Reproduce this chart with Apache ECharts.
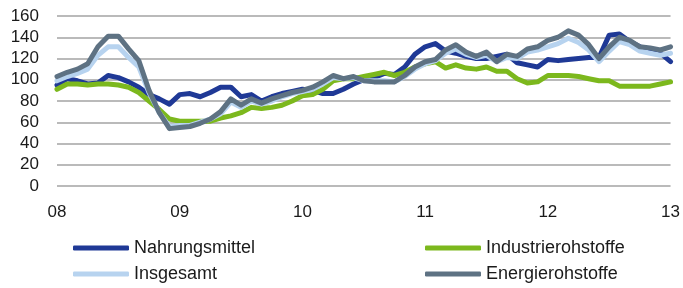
<!DOCTYPE html>
<html>
<head>
<meta charset="utf-8">
<script src="https://cdn.jsdelivr.net/npm/echarts@6/dist/echarts.min.js"></script>
<style>
html,body{margin:0;padding:0;background:#fff;}
#chart{width:683px;height:288px;}
</style>
</head>
<body>
<div id="chart"></div>
<script>
// Monthly categories Jan 2008 .. Jan 2013
const years = ["08","09","10","11","12","13"];
const months = [];
for (let y = 0; y < years.length; y++) {
  const mCount = (y === years.length - 1) ? 1 : 12;
  for (let m = 1; m <= mCount; m++) months.push(years[y] + "-" + (m < 10 ? "0" + m : m));
}
const yTicks = [0, 20, 40, 60, 80, 100, 120, 140, 160];

const nahrungsmittel = [
  95, 101, 99, 96, 97, 104, 102, 98, 93, 86, 82, 77,
  86, 87, 84, 88, 93, 93, 84, 86, 80, 84, 87, 89,
  91, 90, 87, 87, 91, 96, 100, 102, 106, 105, 112, 124,
  131, 134, 127, 125, 122, 120, 120, 122, 124, 116, 114, 112,
  119, 118, 119, 120, 121, 121, 142, 143, 136, 131, 128, 125,
  117
];
const industrierohstoffe = [
  91, 96, 96, 95, 96, 96, 95, 93, 88, 80, 72, 63,
  61, 61, 61, 61, 64, 66, 69, 74, 73, 74, 76, 80,
  85, 86, 91, 99, 101, 101, 103, 105, 107, 104, 107, 112,
  115, 117, 111, 114, 111, 110, 112, 108, 108, 101, 97, 98,
  104, 104, 104, 103, 101, 99, 99, 94, 94, 94, 94, 96,
  98
];
const insgesamt = [
  99, 103, 106, 110, 123, 131, 131, 121, 112, 88, 69, 56,
  57, 57, 60, 63, 68, 79, 74, 80, 77, 80, 84, 87,
  89, 91, 96, 102, 101, 102, 99, 99, 99, 98, 103, 110,
  115, 118, 125, 129, 124, 121, 123, 117, 121, 120, 126, 128,
  131, 134, 139, 135, 128, 117, 127, 136, 133, 127, 125, 123,
  125
];
const energierohstoffe = [
  103, 107, 110, 115, 131, 141, 141, 129, 118, 90, 69, 54,
  55, 56, 59, 63, 70, 82, 76, 82, 78, 82, 85, 88,
  90, 93, 98, 104, 101, 103, 99, 98, 98, 98, 104, 112,
  117, 119, 128, 133, 126, 122, 126, 117, 124, 122, 129, 131,
  137, 140, 146, 142, 133, 120, 131, 140, 137, 131, 130, 128,
  131
];

const names = ["Nahrungsmittel", "Industrierohstoffe", "Insgesamt", "Energierohstoffe"];
const colors = ["#1f3996", "#7cb81d", "#b7d3ef", "#5e7283"];
const values = [nahrungsmittel, industrierohstoffe, insgesamt, energierohstoffe];

const chart = echarts.init(document.getElementById('chart'), null, {renderer: 'canvas'});
const font = "'Liberation Sans', Arial, sans-serif";

const legendPos = [
  {left: 73, top: 239},
  {left: 425, top: 239},
  {left: 73, top: 265},
  {left: 425, top: 265}
];

chart.setOption({
  animation: false,
  backgroundColor: '#ffffff',
  grid: {left: 57, right: 11, top: 16, bottom: 102, containLabel: false},
  legend: names.map((n, i) => ({
    data: [{name: n, icon: 'roundRect'}],
    left: legendPos[i].left,
    top: legendPos[i].top,
    itemWidth: 56,
    itemHeight: 5,
    padding: 0,
    selectedMode: false,
    textStyle: {fontFamily: font, fontSize: 18, color: '#1a1a1a', padding: [0, 0, 0, 0]}
  })),
  xAxis: {
    type: 'category',
    data: months,
    boundaryGap: false,
    axisLine: {show: false},
    axisTick: {show: false},
    splitLine: {show: false},
    axisLabel: {
      interval: 11,
      margin: 18,
      fontFamily: font,
      fontSize: 17,
      color: '#1a1a1a',
      formatter: (v) => v.slice(0, 2)
    }
  },
  yAxis: {
    type: 'value',
    min: yTicks[0],
    max: yTicks[yTicks.length - 1],
    interval: 20,
    axisLine: {show: false},
    axisTick: {show: false},
    splitLine: {show: true, lineStyle: {color: '#a3a3a3', width: 1.5}},
    axisLabel: {
      margin: 18,
      fontFamily: font,
      fontSize: 17,
      color: '#1a1a1a'
    }
  },
  series: names.map((n, i) => ({
    name: n,
    type: 'line',
    data: values[i],
    symbol: 'none',
    smooth: false,
    color: colors[i],
    lineStyle: {width: 5, color: colors[i], cap: 'round', join: 'round'},
    z: 2 + i
  }))
});
</script>
</body>
</html>
